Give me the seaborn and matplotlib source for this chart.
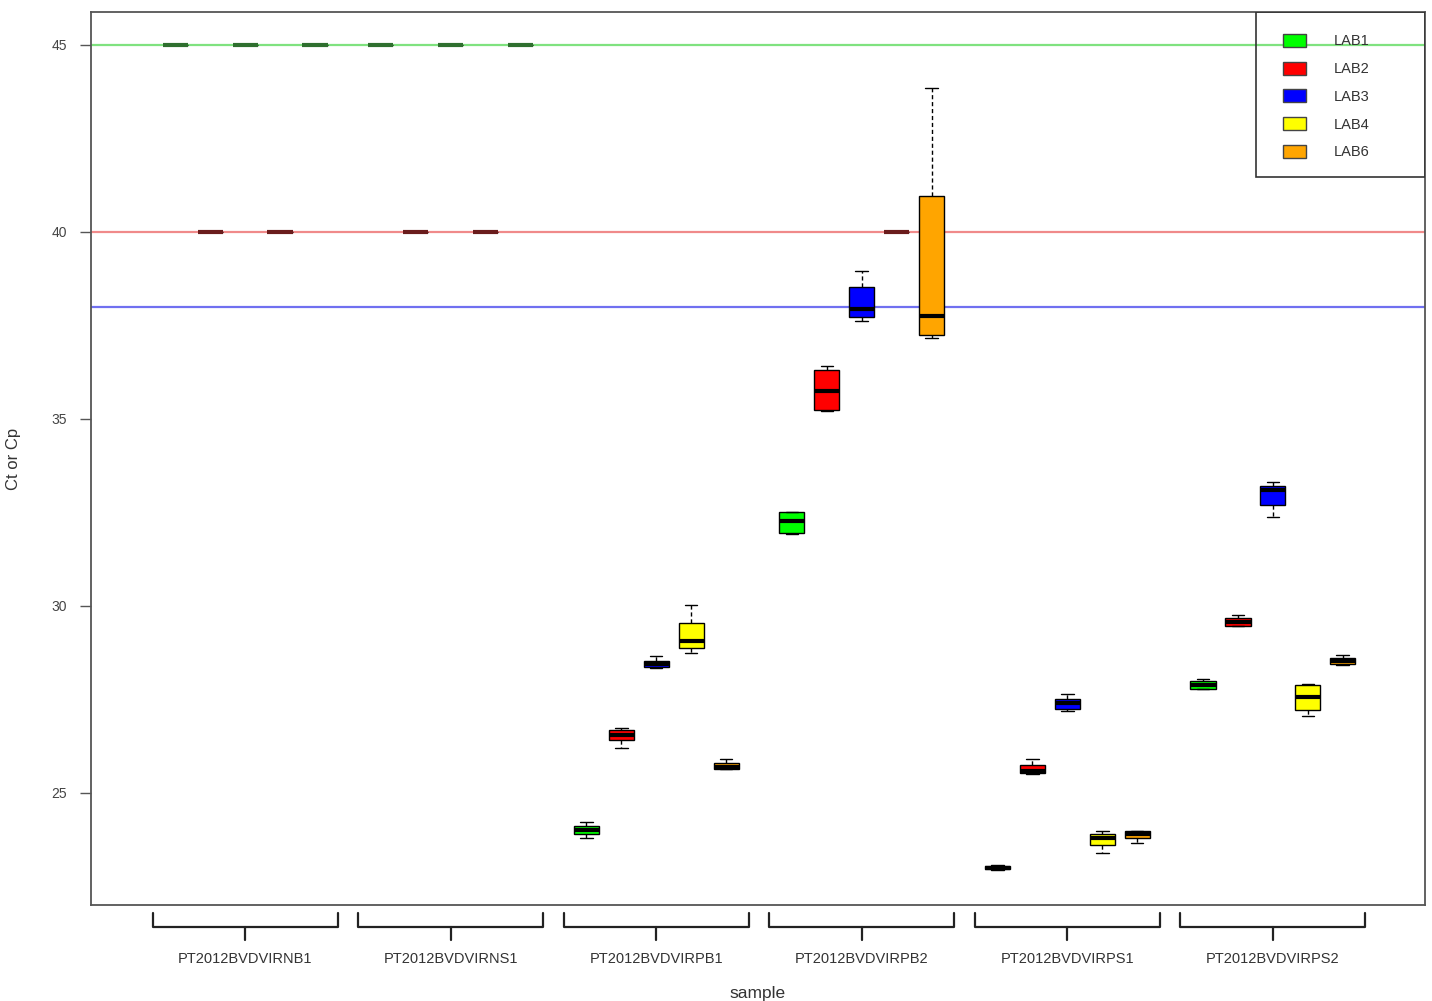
import numpy as np
import pandas as pd
import matplotlib
matplotlib.use("Agg")
import matplotlib.pyplot as plt
import matplotlib.transforms as mtransforms
from matplotlib.patches import Patch, Rectangle
import seaborn as sns

samples = ["PT2012BVDVIRNB1", "PT2012BVDVIRNS1", "PT2012BVDVIRPB1",
           "PT2012BVDVIRPB2", "PT2012BVDVIRPS1", "PT2012BVDVIRPS2"]
labs = ["LAB1", "LAB2", "LAB3", "LAB4", "LAB6"]
lab_colors = ["#00ff00", "#ff0000", "#0000ff", "#ffff00", "#ffa500"]

# five-number summary per lab (min, q1, median, q3, max)
nb1 = [[45, 45, 45, 45, 45], [40, 40, 40, 40, 40], [45, 45, 45, 45, 45],
       [40, 40, 40, 40, 40], [45, 45, 45, 45, 45]]
ns1 = [[45, 45, 45, 45, 45], [40, 40, 40, 40, 40], [45, 45, 45, 45, 45],
       [40, 40, 40, 40, 40], [45, 45, 45, 45, 45]]
pb1 = [[23.80, 23.90, 24.01, 24.12, 24.22], [26.20, 26.42, 26.55, 26.68, 26.74],
       [28.34, 28.37, 28.45, 28.53, 28.66], [28.74, 28.88, 29.06, 29.55, 30.03],
       [25.64, 25.64, 25.70, 25.80, 25.91]]
pb2 = [[31.93, 31.95, 32.27, 32.51, 32.51], [35.21, 35.24, 35.75, 36.31, 36.42],
       [37.62, 37.73, 37.94, 38.53, 38.96], [40, 40, 40, 40, 40],
       [37.17, 37.25, 37.75, 40.96, 43.85]]
ps1 = [[22.93, 22.96, 23.00, 23.04, 23.06], [25.51, 25.53, 25.59, 25.75, 25.91],
       [27.19, 27.25, 27.41, 27.51, 27.65], [23.40, 23.61, 23.80, 23.90, 23.98],
       [23.66, 23.80, 23.90, 23.98, 23.98]]
ps2 = [[27.78, 27.78, 27.89, 27.99, 28.05], [29.47, 29.47, 29.57, 29.68, 29.76],
       [32.38, 32.70, 33.10, 33.21, 33.32], [27.06, 27.22, 27.57, 27.89, 27.91],
       [28.42, 28.45, 28.53, 28.61, 28.69]]
all_groups = [nb1, ns1, pb1, pb2, ps1, ps2]

ref_lines = [45, 40, 38]
ref_colors = ["#7fe27f", "#f08a8a", "#7070f0"]

rows = []
for s, group in zip(samples, all_groups):
    for lab, vals in zip(labs, group):
        for v in vals:
            rows.append({"sample": s, "lab": lab, "ct": v})
df = pd.DataFrame(rows)

sns.set_style("white")
plt.rcParams["font.family"] = ["Liberation Sans", "DejaVu Sans"]

fig = plt.figure(figsize=(14.32, 10.01), dpi=100)
ax = fig.add_axes([0.0635, 0.0959, 0.9316, 0.8921])

for y, c in zip(ref_lines, ref_colors):
    ax.axhline(y, color=c, lw=1.6, zorder=1)

sns.boxplot(data=df, x="sample", y="ct", hue="lab", order=samples, hue_order=labs,
            palette=lab_colors, saturation=1, width=0.85, gap=0.28, whis=(0, 100),
            showfliers=False, linecolor="black", linewidth=1, legend=False,
            medianprops=dict(lw=3, color="black"),
            whiskerprops=dict(ls=(0, (3, 2))), ax=ax)

# flat boxes show up as dark lines tinted by the reference line under them
for cont in ax.containers:
    for med in cont.medians:
        y = med.get_ydata()[0]
        if y == 45:
            med.set_color("#2f6f2f")
        elif y == 40:
            med.set_color("#6a1c1c")

ax.set_xlim(-0.75, 5.74)
ax.set_ylim(22.0, 45.88)
ax.set_yticks([25, 30, 35, 40, 45])
ax.tick_params(axis="y", direction="out", length=8, width=1, color="#555555",
               labelsize=10, labelcolor="#444444", pad=9, left=True)
ax.set_xticks(range(len(samples)))
ax.set_xticklabels(samples)
ax.tick_params(axis="x", length=0, pad=34, labelsize=10.5, labelcolor="#333333")
ax.set_xlabel("sample", fontsize=12.5, color="#333333", labelpad=14)
ax.set_ylabel("Ct or Cp", fontsize=12, color="#333333", labelpad=22)

for sp in ax.spines.values():
    sp.set_color("#555555")
    sp.set_linewidth(1.3)

# brackets under each sample group
trans = mtransforms.blended_transform_factory(ax.transData, ax.transAxes)
for i in range(len(samples)):
    x0, x1 = i - 0.45, i + 0.45
    ax.plot([x0, x0, x1, x1], [-0.009, -0.0245, -0.0245, -0.009], color="#222222",
            lw=1.6, transform=trans, clip_on=False)
    ax.plot([i, i], [-0.0245, -0.039], color="#222222", lw=1.6,
            transform=trans, clip_on=False)

# legend box, R style: transparent frame drawn separately, wider than its content
ax.add_patch(Rectangle((0.8733, 0.8152), 0.1267, 0.1848, transform=ax.transAxes,
                       facecolor="none", edgecolor="#333333", lw=1.2, zorder=5))
handles = [Patch(facecolor=c, edgecolor="#444444", lw=1) for c in lab_colors]
leg = ax.legend(handles, labs, loc="upper left", bbox_to_anchor=(0.8936, 0.9757),
                fontsize=10.5, frameon=False, borderaxespad=0, borderpad=0,
                labelspacing=0.91, handlelength=1.6, handleheight=1.0,
                handletextpad=1.85)
leg.set_zorder(6)
for t in leg.get_texts():
    t.set_color("#333333")

fig.savefig("out.png", dpi=100)
